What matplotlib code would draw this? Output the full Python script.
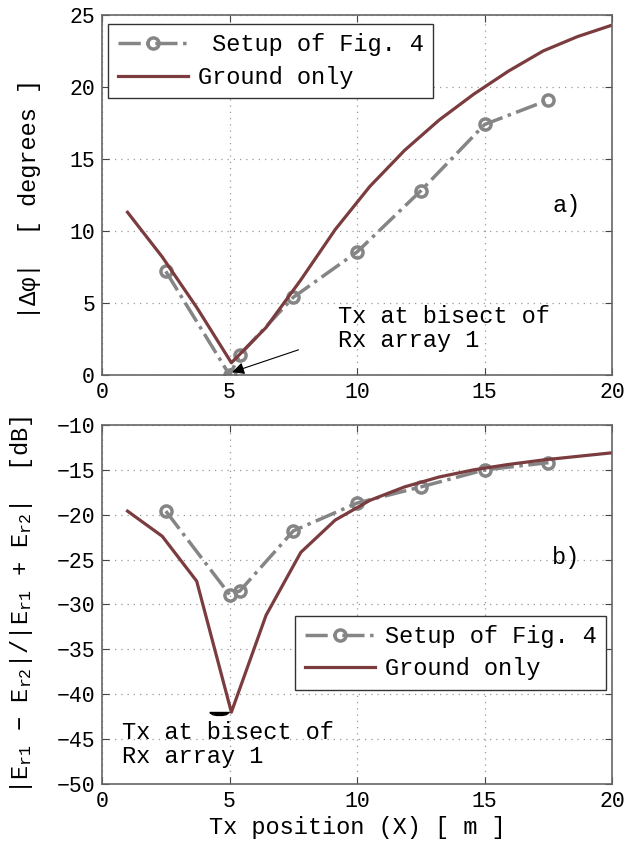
import matplotlib
matplotlib.use('Agg')
import matplotlib.pyplot as plt
from matplotlib.path import Path

plt.rcParams['font.family'] = ['Liberation Mono', 'DejaVu Sans Mono']
plt.rcParams['mathtext.fontset'] = 'custom'
plt.rcParams['mathtext.rm'] = 'Liberation Mono'
plt.rcParams['mathtext.it'] = 'Liberation Mono'
plt.rcParams['font.size'] = 17

# ground-only curve (shared x)
x_ground = [1.0, 2.36, 3.71, 5.07, 6.43, 7.79, 9.14, 10.5, 11.86, 13.21, 14.57, 15.93, 17.29, 18.64, 20.0]
phase_ground = [11.3, 8.2, 4.7, 0.85, 3.3, 6.6, 10.1, 13.1, 15.6, 17.7, 19.5, 21.1, 22.5, 23.5, 24.3]
ratio_ground = [-19.6, -22.4, -27.4, -42.0, -31.2, -24.2, -20.6, -18.4, -16.9, -15.8, -15.0, -14.4, -13.9, -13.5, -13.1]

# setup of Fig. 4
x_setup = [2.5, 5.0, 5.4, 7.5, 10.0, 12.5, 15.0, 17.5]
phase_setup = [7.2, 0.0, 1.4, 5.4, 8.55, 12.8, 17.4, 19.1]
ratio_setup = [-19.6, -28.9, -28.5, -21.8, -18.7, -16.9, -15.0, -14.2]

ground_col = '#7a3c3e'
setup_col = '#858585'

fig = plt.figure(figsize=(6.26, 8.42), dpi=100)
ax1 = fig.add_axes([0.163, 0.5546, 0.815, 0.4276])
ax2 = fig.add_axes([0.163, 0.0689, 0.815, 0.4264])


def style(ax):
    ax.grid(True, linestyle=(0, (1, 4)), color='#999999', linewidth=0.9)
    ax.tick_params(direction='in', top=True, right=True, length=5, color='#444444',
                   pad=5, labelsize=15.5)
    for s in ax.spines.values():
        s.set_color('#666666')
        s.set_linewidth(1.2)
    ax.set_xlim(0, 20)
    ax.set_xticks([0, 5, 10, 15, 20])


def legend(ax, **kw):
    lg = ax.legend(borderaxespad=0, fancybox=False, edgecolor='#333333', framealpha=1,
                   fontsize=17, handlelength=3.0, handletextpad=0.4, borderpad=0.4,
                   labelspacing=0.4, **kw)
    lg.get_frame().set_linewidth(1.0)
    return lg


# a)
ax1.plot(x_setup, phase_setup, color=setup_col, linestyle='-.', lw=2.5, marker='o',
         ms=8, mfc='none', mew=2.5, label=' Setup of Fig. 4')
ax1.plot(x_ground, phase_ground, color=ground_col, lw=2.3, label='Ground only')
style(ax1)
ax1.set_ylim(0, 25)
ax1.set_yticks([0, 5, 10, 15, 20, 25])
fig.text(30 / 626, 1 - 199 / 842, '|Δφ|  [ degrees ]', rotation=90, ha='center', va='center')
ax1.text(18.2, 11.8, 'a)', ha='center', va='center')
ax1.text(9.25, 3.25, 'Tx at bisect of\nRx array 1', ha='left', va='center', linespacing=1.05)
ax1.annotate('', xy=(5.1, 0.2), xytext=(7.7, 1.75),
             arrowprops=dict(arrowstyle='-|>', color='k', lw=0.8, mutation_scale=18,
                             shrinkA=0, shrinkB=0))
legend(ax1, loc='upper left', bbox_to_anchor=(0.012, 0.975))

# b)
ax2.plot(x_setup, ratio_setup, color=setup_col, linestyle='-.', lw=2.5, marker='o',
         ms=8, mfc='none', mew=2.5, label='Setup of Fig. 4')
ax2.plot(x_ground, ratio_ground, color=ground_col, lw=2.3, label='Ground only')
style(ax2)
ax2.set_ylim(-50, -10)
ax2.set_yticks(range(-50, -9, 5))
fig.text(22 / 626, 1 - 605 / 842,
         r'$|\mathrm{E}_{\mathrm{r1}}$ $-$ $\mathrm{E}_{\mathrm{r2}}|/|\mathrm{E}_{\mathrm{r1}}$ + $\mathrm{E}_{\mathrm{r2}}|$  [dB]',
         rotation=90, ha='center', va='center')
ax2.set_xlabel('Tx position (X) [ m ]', labelpad=3)
ax2.text(18.2, -24.8, 'b)', ha='center', va='center')
ax2.text(0.78, -45.6, 'Tx at bisect of\nRx array 1', ha='left', va='center', linespacing=1.05)
blob = Path([(-1, 0), (1, 0), (0.7, -0.22), (0.3, -0.3), (-0.3, -0.3), (-0.7, -0.22), (-1, 0)])
ax2.plot([4.6], [-42.0], marker=blob, color='k', ms=14, linestyle='none')
legend(ax2, loc='lower right', bbox_to_anchor=(0.988, 0.262))

fig.savefig('out.png', dpi=100)
